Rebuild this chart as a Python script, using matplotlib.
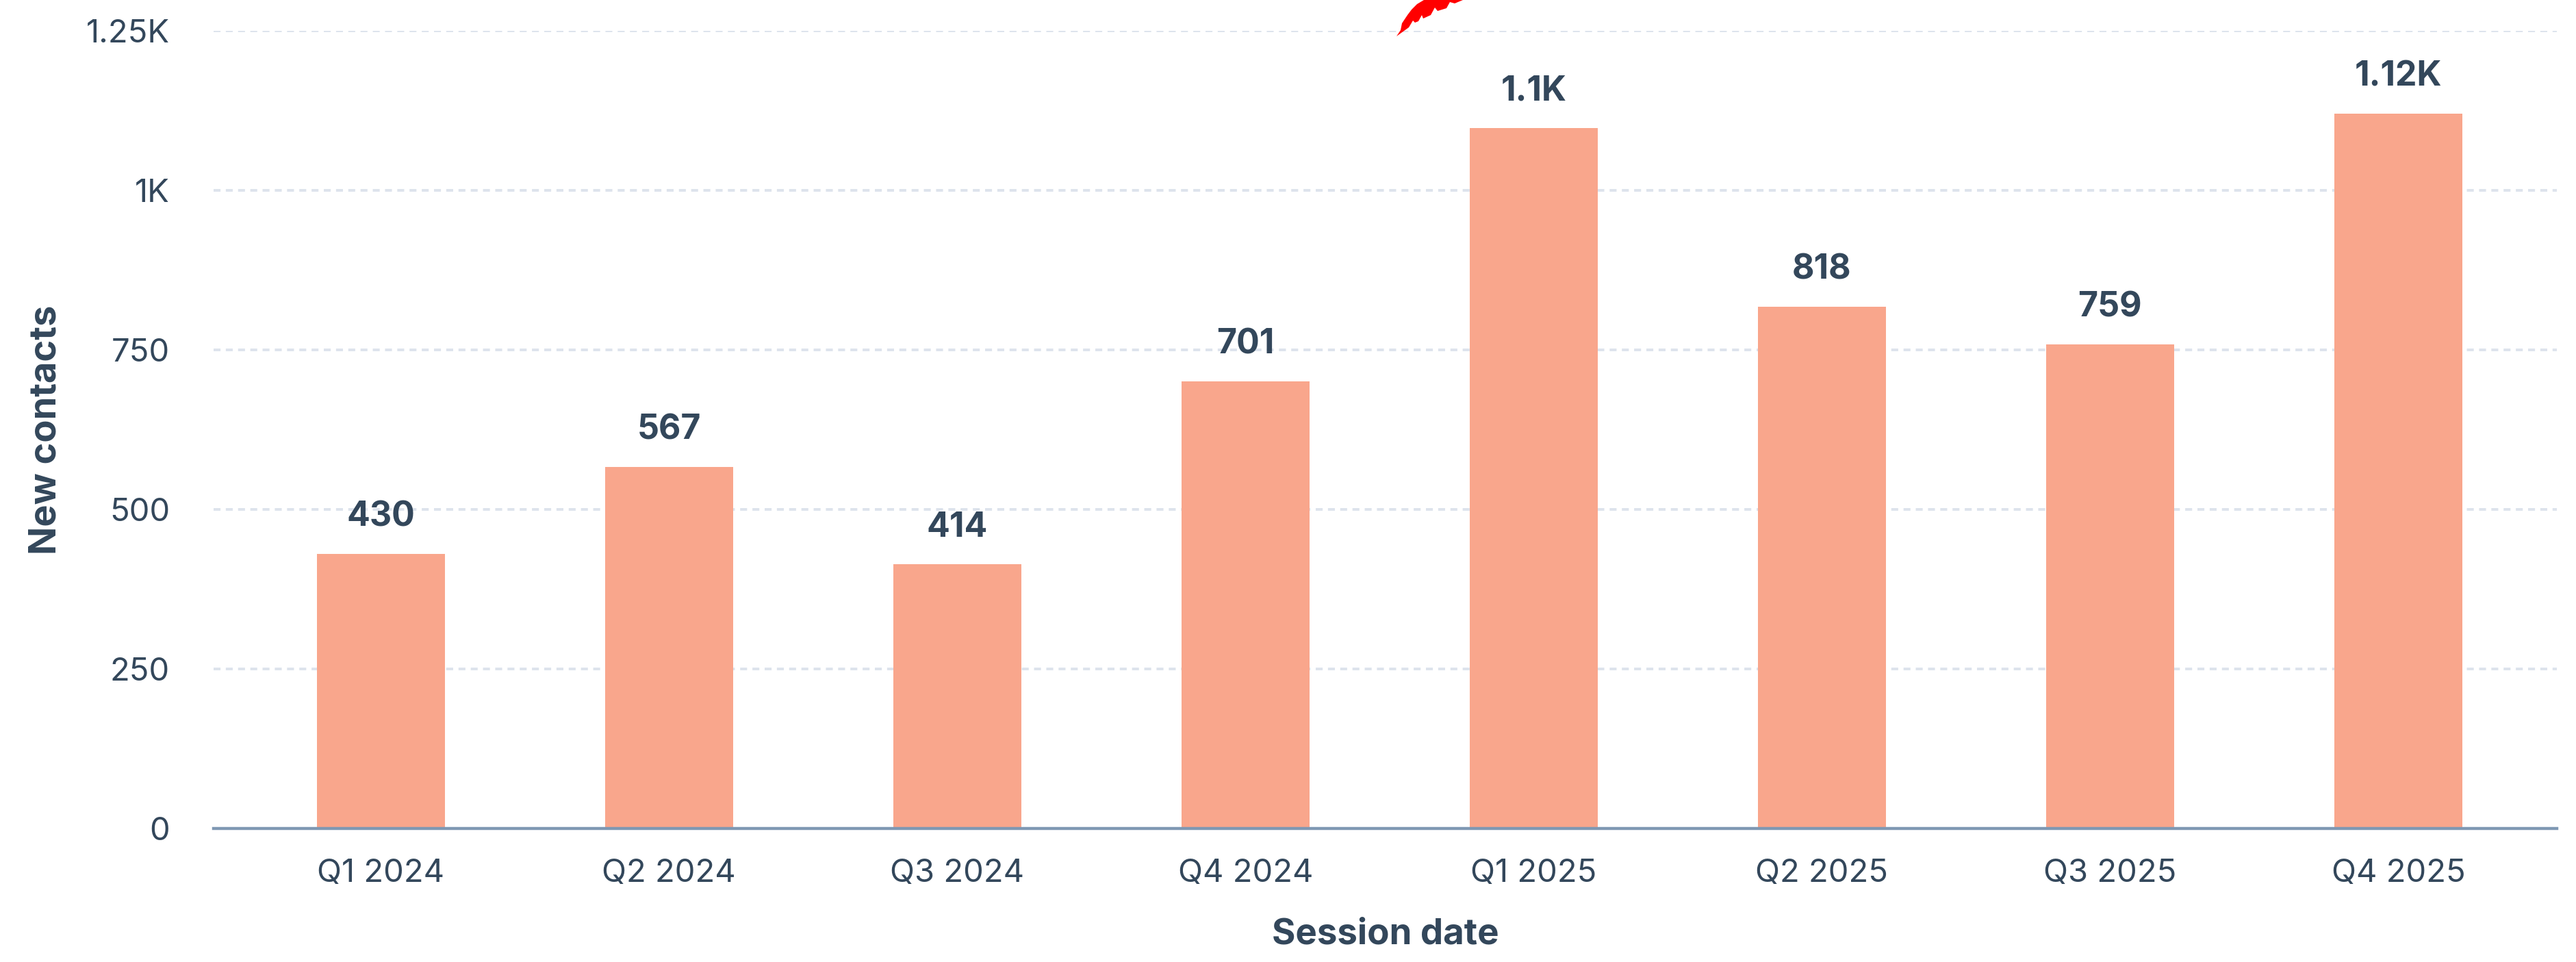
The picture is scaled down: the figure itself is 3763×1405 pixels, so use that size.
import matplotlib
matplotlib.use("Agg")
import matplotlib.pyplot as plt
from matplotlib.patches import Polygon
from matplotlib.ticker import FixedLocator, FuncFormatter

categories = ["Q1 2024", "Q2 2024", "Q3 2024", "Q4 2024",
              "Q1 2025", "Q2 2025", "Q3 2025", "Q4 2025"]
new_contacts = [430, 567, 414, 701, 1098, 818, 759, 1120]
y_ticks = [0, 250, 500, 750, 1000, 1250]

TEXT = "#33475b"
BAR = "#f9a68c"
GRID = "#dde3ec"
AXIS = "#7f98b3"

plt.rcParams['font.family'] = ['Inter', 'DejaVu Sans']

W, H, DPI = 3763, 1405, 200
fig = plt.figure(figsize=(W / DPI, H / DPI), dpi=DPI)
ax = fig.add_axes([312 / W, 195 / H, (3735 - 312) / W, (1210 - 45) / H])

x = list(range(len(categories)))
ax.bar(x, new_contacts, width=0.445, color=BAR, zorder=3)

def fmt_val(v):
    if v >= 1000:
        return f"{round(v / 1000, 2):g}K"
    return f"{v:g}"

for xi, v in zip(x, new_contacts):
    ax.annotate(fmt_val(v), (xi, v), xytext=(0, 11), textcoords="offset points",
                ha="center", va="bottom", fontsize=18, fontweight="bold",
                color=TEXT, zorder=4)

ax.set_xlim(-0.58, 7.55)
ax.set_ylim(0, 1250)
ax.yaxis.set_major_locator(FixedLocator(y_ticks))
ax.yaxis.set_major_formatter(FuncFormatter(
    lambda v, p: "0" if v == 0 else (f"{v / 1000:g}K" if v >= 1000 else f"{v:g}")))
ax.set_xticks(x)
ax.set_xticklabels(categories)

ax.grid(axis="y", color=GRID, linewidth=1.4, linestyle=(0, (2.6, 2.0)), zorder=0)
ax.set_axisbelow(True)
for s in ["top", "right", "left"]:
    ax.spines[s].set_visible(False)
ax.spines["bottom"].set_color(AXIS)
ax.spines["bottom"].set_linewidth(1.6)
ax.spines["bottom"].set_zorder(5)

ax.tick_params(axis="y", length=0, pad=23, labelsize=17, labelcolor=TEXT)
ax.tick_params(axis="x", length=0, pad=16, labelsize=17, labelcolor=TEXT)

ax.set_xlabel("Session date", fontsize=19, fontweight="bold", color=TEXT, labelpad=15)
ax.set_ylabel("New contacts", fontsize=19.5, fontweight="bold", color=TEXT, labelpad=12)

# red scribble annotation at the top
scribble = [(2040, 53), (2046, 44), (2048, 34), (2056, 22), (2062, 14), (2070, 6),
            (2080, 0), (2137, 0), (2125, 5), (2118, 3), (2113, 12), (2100, 16),
            (2096, 11), (2090, 22), (2079, 27), (2077, 22), (2072, 31), (2067, 33),
            (2064, 30), (2058, 40)]
poly = Polygon([(px, H - py) for px, py in scribble], closed=True,
               facecolor="#ff0000", edgecolor="none", transform=None, zorder=10)
fig.patches.append(poly)

fig.savefig("out.png", dpi=DPI, facecolor="white")
